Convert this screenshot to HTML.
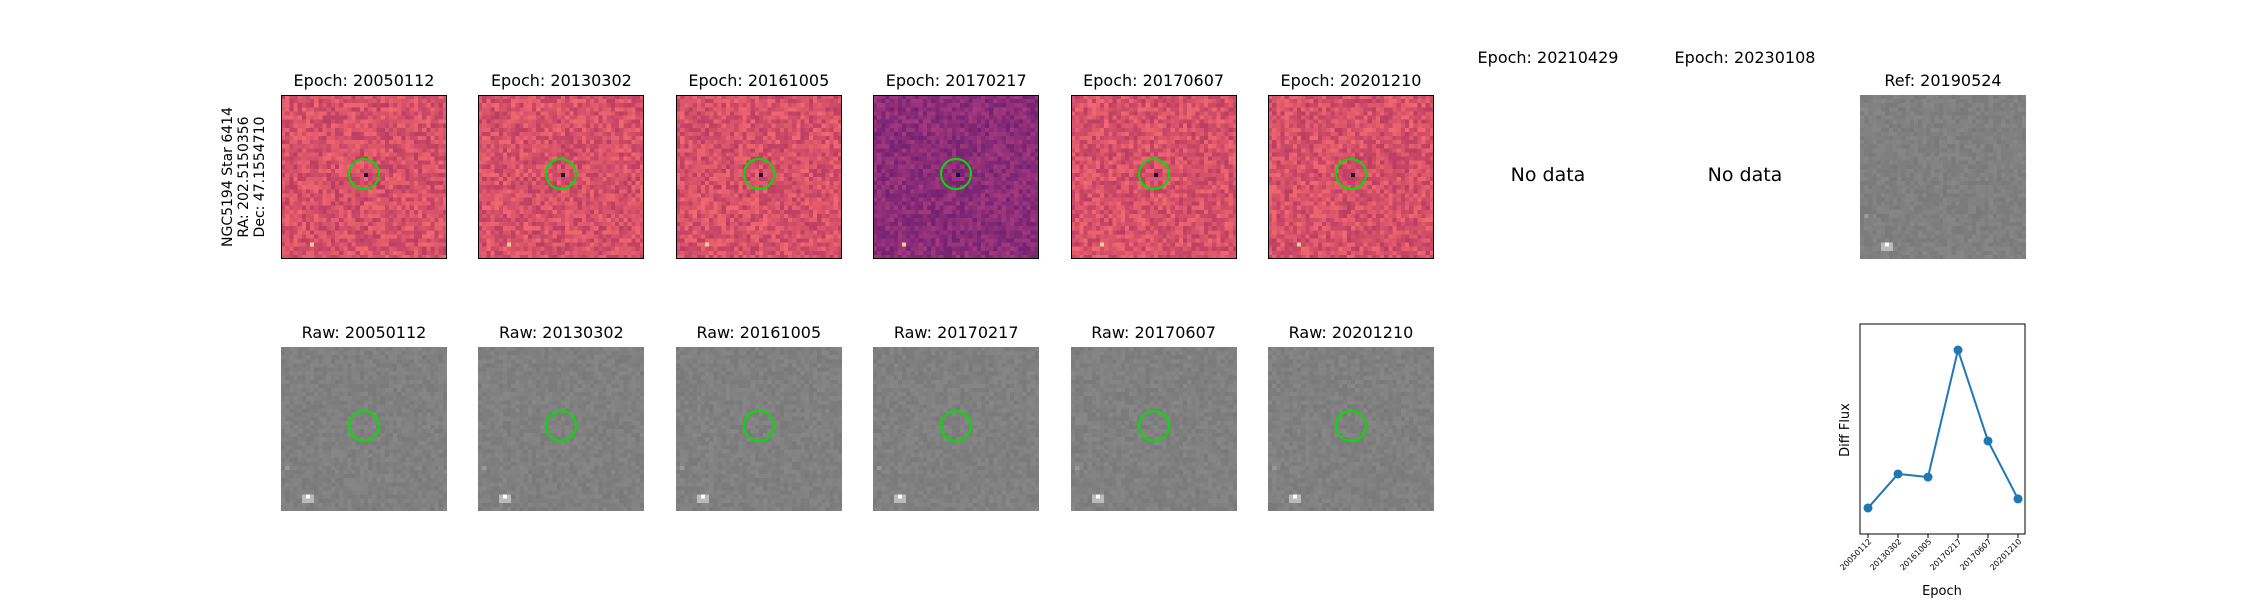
<!DOCTYPE html>
<html><head><meta charset="utf-8"><style>
body{margin:0;background:#fff;width:2250px;height:600px;overflow:hidden;font-family:"DejaVu Sans","Liberation Sans",sans-serif;}
.t{position:absolute;font-size:16px;color:#000;white-space:nowrap;transform:translateX(-50%);}
canvas{position:absolute;}
.box{position:absolute;border:1px solid #000;box-sizing:border-box;}
.circ{position:absolute;width:32px;height:32px;border:2px solid #00e000;border-radius:50%;box-sizing:border-box;}
</style></head><body>
<div id="root"></div>
<div class="t" style="left:244px;top:177px;transform:translate(-50%,-50%) rotate(-90deg);text-align:center;font-size:14px;line-height:16px;">NGC5194 Star 6414<br>RA: 202.5150356<br>Dec: 47.1554710</div>
<div class="t" style="left:1548px;top:48px">Epoch: 20210429</div>
<div class="t" style="left:1745px;top:48px">Epoch: 20230108</div>
<div class="t" style="left:1548px;top:164px;font-size:19px">No data</div>
<div class="t" style="left:1745px;top:164px;font-size:19px">No data</div>
<svg id="lc" style="position:absolute;left:0;top:0" width="2250" height="600"></svg>
<script>
const epochs=["20050112","20130302","20161005","20170217","20170607","20201210"];
const diffFlux=[12.4,28.6,27.1,87.6,44.3,16.7];
const root=document.getElementById('root');
let seed=7;function rnd(){seed=(seed*16807)%2147483647;return seed/2147483647;}
const step=197.4,W=166,H=164;
function panel(x,y,kind,title,name,dark){
  const t=document.createElement('div');t.className='t';t.style.left=(x+W/2)+'px';t.style.top=(y-24)+'px';t.textContent=title;
  
  
  root.appendChild(t);
  const c=document.createElement('canvas');c.width=40;c.height=40;c.style.left=x+'px';c.style.top=y+'px';c.style.width=W+'px';c.style.height=H+'px';c.style.imageRendering='pixelated';
  
  
  const g=c.getContext('2d');
  for(let i=0;i<40;i++)for(let j=0;j<40;j++){
    const n=rnd()-0.5;
    let col;
    if(kind==='gray'){const v=Math.round(128+n*14);col=`rgb(${v},${v},${v})`;}
    else if(dark){col=`rgb(${Math.round(140+n*50)},${Math.round(45+n*25)},${Math.round(120+n*14)})`;}
    else{col=`rgb(${Math.round(215+n*55)},${Math.round(82+n*45)},${Math.round(105+n*14)})`;}
    g.fillStyle=col;g.fillRect(j,i,1,1);
  }
  if(kind==='gray'){g.fillStyle='#bbb';g.fillRect(5,36,3,2);g.fillStyle='#fff';g.fillRect(6,36,1,1);g.fillStyle='#999';g.fillRect(1,29,1,1);}
  else{g.fillStyle='#200c40';g.fillRect(20,19,1,1);g.fillStyle='#fcd08a';g.fillRect(7,36,1,1);}
  root.appendChild(c);
  if(kind!=='gray'){const b=document.createElement('div');b.className='box';b.style.cssText+=`left:${x}px;top:${y}px;width:${W}px;height:${H}px`;
  
  
  root.appendChild(b);}
  if(name!=='ref'){const o=document.createElement('div');o.className='circ';o.style.left=(x+W/2-16)+'px';o.style.top=(y+79-16)+'px';
  
  
  root.appendChild(o);}
}
epochs.forEach((e,i)=>{const x=281+i*step;panel(x,95,'magma','Epoch: '+e,'diff-'+e,e==='20170217');panel(x,347,'gray','Raw: '+e,'raw-'+e,false);});
panel(1860,95,'gray','Ref: 20190524','ref',false);
const svg=document.getElementById('lc');const NS='http://www.w3.org/2000/svg';
const L=1860,R=2025,T=324,B=534;
const xs=i=>1868+i*30;const ys=v=>B-v/100*(B-T);
function el(tag,attrs,name,text){const e=document.createElementNS(NS,tag);for(const k in attrs)e.setAttribute(k,attrs[k]);


if(text)e.textContent=text;svg.appendChild(e);return e;}
el('rect',{x:L,y:T,width:R-L,height:B-T,fill:'none',stroke:'#000','stroke-width':1},'plot-frame');
el('polyline',{points:diffFlux.map((v,i)=>xs(i)+','+ys(v)).join(' '),fill:'none',stroke:'#1f77b4','stroke-width':2},'flux-line');
diffFlux.forEach((v,i)=>{el('circle',{cx:xs(i),cy:ys(v),r:4.5,fill:'#1f77b4'},'flux-point');
el('line',{x1:xs(i),x2:xs(i),y1:B,y2:B+4,stroke:'#000'},'x-tick');
el('text',{x:xs(i)+4,y:B+8,'font-size':8,'text-anchor':'end',transform:`rotate(-45 ${xs(i)+4} ${B+8})`,'font-family':'DejaVu Sans, sans-serif'},'x-tick-label',epochs[i]);});
el('text',{x:1942,y:595,'font-size':13,'text-anchor':'middle','font-family':'DejaVu Sans, sans-serif'},'x-axis-title','Epoch');
el('text',{x:1849,y:430,'font-size':13,'text-anchor':'middle',transform:'rotate(-90 1849 430)','font-family':'DejaVu Sans, sans-serif'},'y-axis-title','Diff Flux');
</script>
</body></html>
